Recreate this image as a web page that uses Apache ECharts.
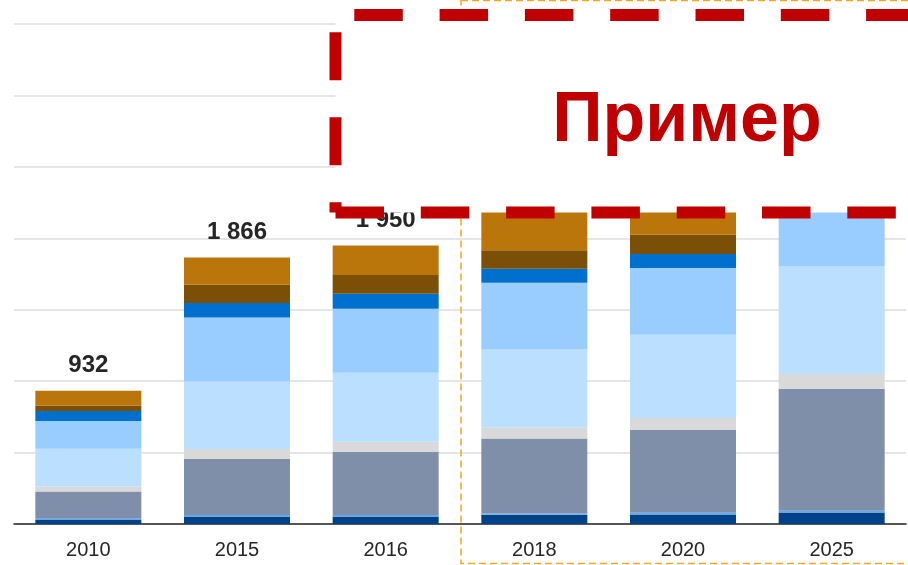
<!DOCTYPE html>
<html>
<head>
<meta charset="utf-8">
<script src="https://cdn.jsdelivr.net/npm/echarts@6/dist/echarts.min.js"></script>
<style>
  html, body { margin: 0; padding: 0; background: #fff; }
  #chart { width: 908px; height: 565px; }
</style>
</head>
<body>
<div id="chart"></div>
<script>
// categories + stacked segments, bottom to top
var years = ['2010', '2015', '2016', '2018', '2020', '2025']
var navy   = [28, 53, 53, 65, 67, 81]
var thin   = [9, 10, 10, 8, 12, 12]
var slate  = [191, 392, 443, 525, 581, 854]
var grey   = [35, 70, 70, 75, 82, 103]
var pale   = [264, 473, 483, 548, 583, 753]
var sky    = [194, 448, 448, 467, 467, 470]
var blue   = [70, 101, 105, 98, 98, 100]
var brown  = [37, 128, 131, 130, 135, 140]
var amber  = [104, 191, 207, 280, 200, 210]

var layers = [navy, thin, slate, grey, pale, sky, blue, brown, amber]
var colors = ['#004287', '#62aaf0', '#7f8fa9', '#d9d9d9', '#bbdfff', '#99ccff', '#0070cf', '#7b4f06', '#ba760a']

var totals = years.map(function (y, i) {
  return layers.reduce(function (s, arr) { return s + arr[i] }, 0)
})

function fmt(n) { // 1866 -> "1 866"
  return String(n).replace(/\B(?=(\d{3})+(?!\d))/g, ' ')
}

var series = layers.map(function (arr, k) {
  var s = {
    type: 'bar',
    stack: 'all',
    barWidth: 106,
    data: arr,
    itemStyle: { color: colors[k] },
    emphasis: { disabled: true }
  }
  if (k === layers.length - 1) {
    s.label = {
      show: true,
      position: 'top',
      distance: 13,
      fontSize: 24,
      fontWeight: 'bold',
      color: '#262626',
      formatter: function (p) { return fmt(totals[p.dataIndex]) }
    }
  }
  return s
})

var chart = echarts.init(document.getElementById('chart'), null, { renderer: 'canvas' })
chart.setOption({
  animation: false,
  textStyle: { fontFamily: 'Arial, "Liberation Sans", sans-serif' },
  grid: { left: 14, right: 2, top: 24, bottom: 41 },
  xAxis: {
    type: 'category',
    data: years,
    axisTick: { show: false },
    axisLine: { lineStyle: { color: '#262626', width: 1.5 } },
    axisLabel: { fontSize: 20, color: '#262626', margin: 16 }
  },
  yAxis: {
    type: 'value',
    min: 0,
    max: 3500,
    interval: 500,
    axisLabel: { show: false },
    axisLine: { show: false },
    axisTick: { show: false },
    splitLine: { lineStyle: { color: '#dcdcdc', width: 1.5 } }
  },
  series: series,
  graphic: {
    elements: [
      { // orange dashed frame
        type: 'rect', z: 90,
        shape: { x: 461, y: 0.5, width: 600, height: 563 },
        style: { fill: null, stroke: '#f5a623', lineWidth: 1.5, lineDash: [7, 4] }
      },
      { // white panel behind the stamp
        type: 'rect', z: 100,
        shape: { x: 335.5, y: 15, width: 700, height: 197.5 },
        style: { fill: '#fff' }
      },
      {
        type: 'line', z: 101,
        shape: { x1: 335.5, y1: 15, x2: 1000, y2: 15 },
        style: { stroke: '#c00000', lineWidth: 12, lineDash: [48.5, 36.8], lineDashOffset: 66.5 }
      },
      {
        type: 'line', z: 101,
        shape: { x1: 335.5, y1: 15, x2: 335.5, y2: 212.5 },
        style: { stroke: '#c00000', lineWidth: 12, lineDash: [48, 37], lineDashOffset: 67.7 }
      },
      {
        type: 'line', z: 101,
        shape: { x1: 335.5, y1: 212.5, x2: 1000, y2: 212.5 },
        style: { stroke: '#c00000', lineWidth: 12, lineDash: [48.5, 36.8], lineDashOffset: 0 }
      },
      {
        type: 'text', z: 102,
        style: {
          x: 687, y: 122,
          text: 'Пример',
          align: 'center',
          verticalAlign: 'middle',
          fill: '#c00000',
          font: 'bold 70px Arial, "Liberation Sans", sans-serif'
        }
      }
    ]
  }
})
</script>
</body>
</html>
